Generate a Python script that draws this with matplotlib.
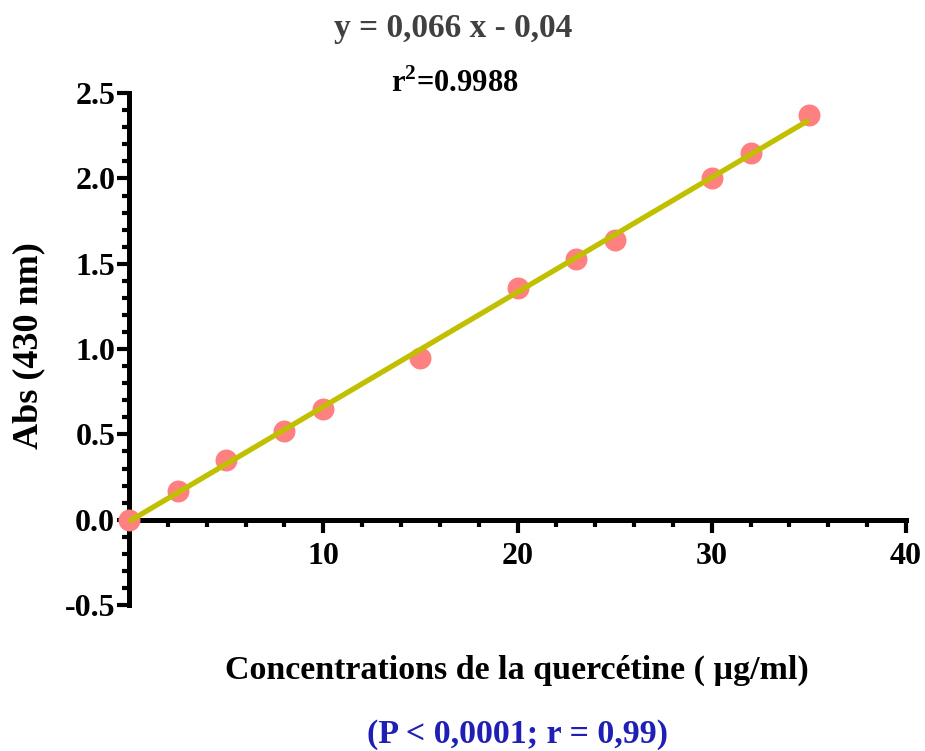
import numpy as np
import matplotlib
matplotlib.use("Agg")
import matplotlib.pyplot as plt
from matplotlib.ticker import MultipleLocator

# concentrations (µg/ml) et absorbances lues
conc = [0, 2.5, 5, 8, 10, 15, 20, 23, 25, 30, 32, 35]
absorb = [0.0, 0.17, 0.35, 0.52, 0.65, 0.95, 1.36, 1.53, 1.64, 2.0, 2.15, 2.37]

eq_text = "y = 0,066 x - 0,04"
r2_text = "r$^{\\mathbf{2}}$=0.9988"
xlabel = "Concentrations de la quercétine ( µg/ml)"
ylabel = "Abs (430 nm)"
stat_text = "(P < 0,0001; r = 0,99)"

plt.rcParams['font.family'] = ['Liberation Serif', 'DejaVu Serif']
plt.rcParams['font.weight'] = 'bold'
plt.rcParams['mathtext.fontset'] = 'custom'
plt.rcParams['mathtext.rm'] = 'Liberation Serif:bold'
plt.rcParams['mathtext.bf'] = 'Liberation Serif:bold'

fig = plt.figure(figsize=(9.25, 7.51), dpi=100)
ax = fig.add_axes([0.1395, 0.1944, 0.840, 0.6816])

# droite de régression
slope, intercept = np.polyfit(conc, absorb, 1)
xfit = np.array([min(conc), max(conc)])
ax.scatter(conc, absorb, s=250, color='#ff8080', zorder=3, clip_on=False, linewidths=0)
ax.plot(xfit, slope * xfit + intercept, color='#c0c000', lw=3.8, zorder=4,
        solid_capstyle='butt', clip_on=False)

ax.set_xlim(0, 40)
ax.set_ylim(-0.5, 2.5)

ax.spines['top'].set_visible(False)
ax.spines['right'].set_visible(False)
ax.spines['bottom'].set_position(('data', 0))
for s in ('left', 'bottom'):
    ax.spines[s].set_linewidth(3.6)

ax.xaxis.set_major_locator(MultipleLocator(10))
ax.xaxis.set_minor_locator(MultipleLocator(2))
ax.yaxis.set_major_locator(MultipleLocator(0.5))
ax.yaxis.set_minor_locator(MultipleLocator(0.1))
ax.set_xticks([10, 20, 30, 40])
ax.set_xticklabels(['10', '20', '30', '40'])
ax.set_yticks([-0.5, 0, 0.5, 1.0, 1.5, 2.0, 2.5])
ax.set_yticklabels(['-0.5', '0.0', '0.5', '1.0', '1.5', '2.0', '2.5'])

ax.tick_params(axis='both', which='major', width=3, length=9, labelsize=23, direction='out')
ax.tick_params(axis='both', which='minor', width=3, length=5, direction='out')
ax.tick_params(axis='x', pad=7)
ax.tick_params(axis='y', pad=1)

fig.text(0.49, 0.962, eq_text, ha='center', va='center', fontsize=24,
         color='#404040', fontweight='bold')
fig.text(0.492, 0.888, r2_text, ha='center', va='center', fontsize=22,
         color='black', fontweight='bold')
fig.text(0.031, 0.54, ylabel, ha='center', va='center', rotation=90,
         fontsize=26, fontweight='bold')
fig.text(0.559, 0.108, xlabel, ha='center', va='center', fontsize=24.5,
         fontweight='bold')
fig.text(0.559, 0.022, stat_text, ha='center', va='center', fontsize=24.5,
         color='#1f1fb5', fontweight='bold')

fig.savefig("out.png", dpi=100)
